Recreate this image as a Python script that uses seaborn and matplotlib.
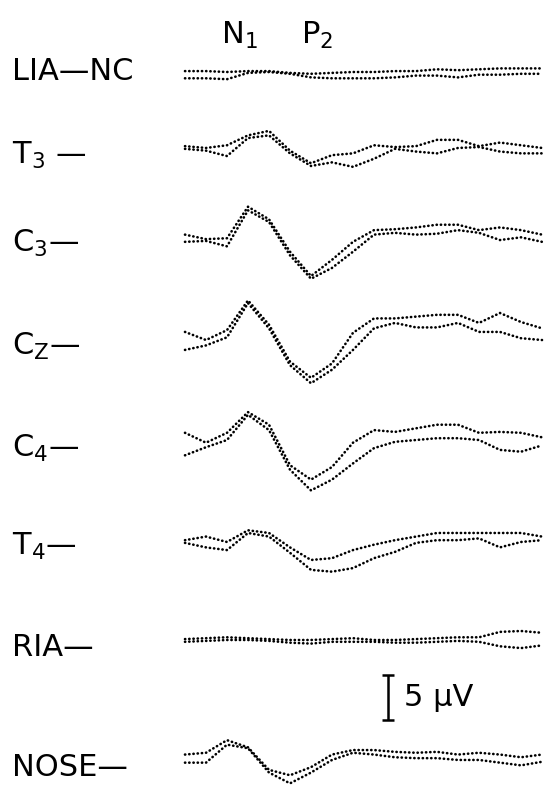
#!/usr/bin/env python3
# -*- coding: utf-8 -*-
# Auditory evoked potentials, two superimposed averages per lead (negative up)

import numpy as np
import pandas as pd
import seaborn as sns
import matplotlib.pyplot as plt

# time of each sample (ms after start of sweep)
times = [0, 25, 50, 75, 100, 125, 150, 175, 200, 225, 250, 275, 300, 325, 350, 375, 400, 425]

channels = ["LIA-NC", "T3", "C3", "Cz", "C4", "T4", "RIA", "NOSE"]

# amplitudes in microvolts, run A and run B (negative = up)
lia_a = [-0.1, -0.1, 0.0, -0.1, -0.1, 0.1, 0.2, 0.1, 0.0, 0.0, -0.1, -0.1, -0.3, -0.2, -0.3, -0.4, -0.4, -0.4]
lia_b = [0.7, 0.7, 0.8, 0.1, 0.0, 0.2, 0.6, 0.7, 0.7, 0.7, 0.6, 0.4, 0.4, 0.6, 0.3, 0.3, 0.2, 0.2]
t3_a = [-0.2, 0.0, -0.3, -1.4, -1.9, 0.3, 1.7, 0.8, 0.6, -0.3, -0.1, -0.2, -0.9, -0.9, -0.2, -0.6, -0.3, 0.0]
t3_b = [0.1, 0.3, 0.9, -1.1, -1.4, 0.6, 2.0, 1.6, 2.1, 1.2, 0.1, 0.4, 0.6, 0.0, -0.1, 0.4, 0.6, 0.6]
c3_a = [-0.6, -0.1, -0.2, -3.7, -2.3, 1.3, 4.0, 2.2, 0.2, -1.1, -1.2, -1.4, -1.7, -1.7, -1.1, -1.4, -1.1, -0.6]
c3_b = [0.2, 0.1, 0.7, -3.3, -2.0, 1.7, 4.3, 3.1, 1.3, -0.6, -0.8, -0.6, -0.7, -1.1, -0.8, 0.0, -0.3, 0.2]
cz_a = [-0.9, 0.0, -1.1, -4.4, -1.7, 2.4, 4.2, 2.6, -0.8, -2.4, -2.4, -2.6, -2.8, -2.8, -1.9, -3.0, -2.0, -1.3]
cz_b = [1.1, 0.6, -0.3, -4.1, -1.3, 2.8, 4.8, 3.3, 1.1, -1.3, -1.9, -1.4, -1.4, -1.9, -0.9, -0.9, -0.2, 0.0]
c4_a = [-0.8, 0.3, -0.8, -3.1, -1.7, 2.8, 4.4, 3.0, 0.3, -1.1, -0.9, -1.3, -1.7, -1.7, -0.8, -0.9, -0.8, -0.3]
c4_b = [1.7, 0.8, 0.0, -2.8, -1.1, 3.3, 5.6, 4.4, 2.6, 0.9, 0.2, 0.0, -0.2, -0.2, 0.0, 1.1, 1.3, 0.6]
t4_a = [-0.2, -0.6, 0.0, -1.3, -1.0, 0.6, 2.0, 1.8, 0.9, 0.3, -0.2, -0.6, -1.0, -1.0, -1.0, -1.0, -1.0, -0.6]
t4_b = [0.1, 0.6, 0.9, -1.0, -0.6, 1.2, 3.1, 3.3, 2.9, 1.8, 1.1, 0.1, -0.2, -0.2, -0.4, 0.6, 0.0, -0.2]
ria_a = [-0.1, -0.2, -0.3, -0.2, -0.1, 0.0, 0.0, -0.1, -0.2, 0.0, 0.0, -0.1, -0.2, -0.3, -0.3, -0.9, -1.0, -0.8]
ria_b = [0.2, 0.1, 0.0, 0.0, 0.1, 0.3, 0.4, 0.2, 0.2, 0.2, 0.3, 0.3, 0.2, 0.1, 0.2, 0.7, 0.9, 0.6]
nose_a = [-0.6, -0.8, -2.2, -1.4, 1.1, 1.7, 0.8, -0.6, -1.1, -1.1, -0.9, -0.8, -0.9, -0.6, -0.8, -0.6, -0.3, -0.6]
nose_b = [0.3, 0.3, -1.7, -1.3, 1.4, 2.6, 1.4, 0.0, -0.8, -0.6, -0.3, -0.2, -0.2, 0.0, 0.0, 0.3, 0.6, 0.2]

runs_a = [lia_a, t3_a, c3_a, cz_a, c4_a, t4_a, ria_a, nose_a]
runs_b = [lia_b, t3_b, c3_b, cz_b, c4_b, t4_b, ria_b, nose_b]

# layout: vertical baseline of each lead (in uV below the top edge)
offsets = [8.0, 16.44, 26.67, 37.78, 48.89, 60.22, 71.11, 84.44]

W, H = 546, 790
PX_MS = 0.84      # pixels per ms
PX_UV = 9.0       # pixels per uV
X0 = 185          # pixel where the sweep starts

rows = []
for ch, off, a, b in zip(channels, offsets, runs_a, runs_b):
    for run, vals in (("A", a), ("B", b)):
        for t, v in zip(times, vals):
            rows.append({"channel": ch, "run": run, "time": t, "y": v + off})
df = pd.DataFrame(rows)

sns.set_theme(style="white")
plt.rcParams["font.family"] = ["DejaVu Sans"]
plt.rcParams["mathtext.default"] = "regular"

fig = plt.figure(figsize=(W / 100, H / 100), dpi=100)
ax = fig.add_axes([0, 0, 1, 1])

for ch in channels:
    sns.lineplot(data=df[df.channel == ch], x="time", y="y", units="run",
                 estimator=None, color="black", linewidth=1.9,
                 linestyle=(0, (0.1, 1.5)), dash_capstyle="round", ax=ax,
                 legend=False)

ax.set_xlim(-X0 / PX_MS, (W - X0) / PX_MS)
ax.set_ylim(H / PX_UV, 0)
ax.axis("off")

# 5 uV calibration bar
bar_t = (388 - X0) / PX_MS
ax.errorbar([bar_t], [697 / PX_UV], yerr=2.5, color="black", capsize=4.5,
            elinewidth=1.8, capthick=1.8, fmt="none")


def px_text(x, y, s, **kw):
    fig.text(x / W, 1 - y / H, s, fontsize=22, color="black",
             va="center", ha="left", **kw)


labels = ["LIA\u2014NC", "T$_3$ \u2014", "C$_3$\u2014", "C$_Z$\u2014",
          "C$_4$\u2014", "T$_4$\u2014", "RIA\u2014", "NOSE\u2014"]
label_y = [72, 155, 243, 346, 448, 546, 648, 768]
for s, y in zip(labels, label_y):
    px_text(12, y, s)

px_text(221, 35, "N$_1$")
px_text(301, 35, "P$_2$")
px_text(404, 697, "5 \u00b5V")

fig.savefig("out.png", dpi=100)
